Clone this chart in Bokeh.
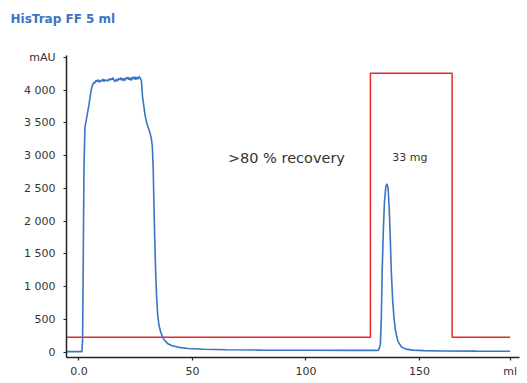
from bokeh.plotting import figure
from bokeh.models import Range1d, FixedTicker, Label, Title
from bokeh.embed import file_html
from bokeh.resources import INLINE

# UV absorbance trace (ml, mAU)
uv_ml = [-5.5, 1.3, 1.6, 1.9, 2.2, 2.6, 3.5, 4.5, 5.3, 5.8,
         6.0, 6.5, 7.0, 7.5, 8.0, 8.5, 9.0, 9.5, 10.0, 10.5, 11.0, 11.5, 12.0, 12.5,
         13.0, 13.5, 14.0, 14.5, 15.0, 15.5, 16.0, 16.5, 17.0, 17.5, 18.0, 18.5, 19.0,
         19.5, 20.0, 20.5, 21.0, 21.5, 22.0, 22.5, 23.0, 23.5, 24.0, 24.5, 25.0, 25.5,
         26.0, 26.5, 27.0, 27.5,
         28.0, 28.6, 29.2, 30.0, 31.0, 31.8, 32.3, 32.7, 33.0, 33.4, 33.8, 34.2, 34.6,
         35.2, 36.0, 37.0, 38.0, 39.0, 41.0, 44.0, 48.0, 55.0, 65.0, 80.0, 100.0, 120.0,
         131.5, 132.0, 132.8, 133.2, 133.6, 134.1, 134.6, 135.2, 135.7, 136.2, 136.7,
         137.2, 137.6, 138.2, 138.8, 139.5, 140.5, 142.0, 144.0, 147.0, 152.0, 160.0,
         175.0, 190.0]
uv_mau = [10, 10, 200, 1500, 2800, 3430, 3600, 3800, 3990, 4060,
          4080, 4120, 4110, 4150, 4130, 4160, 4120, 4150, 4140, 4170, 4130, 4160, 4150, 4140,
          4170, 4150, 4180, 4160, 4190, 4150, 4130, 4170, 4140, 4180, 4160, 4190, 4150,
          4180, 4140, 4190, 4170, 4200, 4160, 4190, 4150, 4200, 4170, 4210, 4160, 4200,
          4170, 4210, 4180, 4150,
          3900, 3750, 3600, 3480, 3380, 3280, 3150, 2800, 2300, 1700, 1200, 850, 600,
          420, 310, 220, 170, 135, 100, 75, 58, 45, 38, 33, 30, 28,
          28, 30, 120, 500, 1250, 1850, 2300, 2530, 2570, 2500, 2200,
          1700, 1250, 800, 520, 320, 170, 85, 48, 32, 25, 20,
          17, 15]

# Step gradient trace (ml, plotted on mAU scale)
grad_ml = [-5.5, 128.4, 128.4, 164.4, 164.4, 190.0]
grad_lvl = [230, 230, 4260, 4260, 230, 230]

x_ticks = [0, 50, 100, 150, 190]
x_tick_labels = {0: "0.0", 50: "50", 100: "100", 150: "150", 190: "ml"}
y_ticks = [0, 500, 1000, 1500, 2000, 2500, 3000, 3500, 4000, 4500]
y_tick_labels = {0: "0", 500: "500", 1000: "1 000", 1500: "1 500", 2000: "2 000",
                 2500: "2 500", 3000: "3 000", 3500: "3 500", 4000: "4 000", 4500: "mAU"}

title_text = "HisTrap FF 5 ml"
note_recovery = ">80 % recovery"
note_mass = "33 mg"

FONT = "DejaVu Sans"
BLUE = "#3a74c4"
RED = "#e8292b"

p = figure(width=527, height=383, output_backend="svg", toolbar_location=None,
           title=None,
           x_range=Range1d(-5.5, 194.1), y_range=Range1d(-80, 4530),
           min_border_left=66, min_border_right=8, min_border_top=55, min_border_bottom=26)
p.outline_line_color = None
p.xgrid.visible = False
p.ygrid.visible = False
p.background_fill_color = "white"
p.border_fill_color = "white"

# spacer panel next to the frame, then the real title above it
p.add_layout(Title(text=" ", text_font=FONT, text_font_size="12px", standoff=9), "above")
p.add_layout(Title(text=title_text, align="left", offset=-56, standoff=10,
                   text_font=FONT, text_font_size="12px", text_font_style="bold",
                   text_color=BLUE), "above")

p.line(grad_ml, grad_lvl, line_color=RED, line_width=1.5)
p.line(uv_ml, uv_mau, line_color=BLUE, line_width=1.6)

for ax in (p.xaxis[0], p.yaxis[0]):
    ax.axis_line_color = "#222222"
    ax.axis_line_width = 1.5
    ax.major_tick_line_color = "#222222"
    ax.major_tick_line_width = 1.2
    ax.major_tick_in = 0
    ax.major_tick_out = 3
    ax.minor_tick_line_color = None
    ax.major_label_text_font = FONT
    ax.major_label_text_font_size = "11px"
    ax.major_label_text_color = "#333333"

p.xaxis.ticker = FixedTicker(ticks=x_ticks)
p.xaxis.major_label_overrides = x_tick_labels
p.xaxis.major_label_standoff = 4
p.yaxis.ticker = FixedTicker(ticks=y_ticks)
p.yaxis.major_label_overrides = y_tick_labels
p.yaxis.major_label_standoff = 8

p.add_layout(Label(x=91.4, y=2970, text=note_recovery, text_font=FONT,
                   text_font_size="14.5px", text_color="#333333",
                   text_align="center", text_baseline="middle"))
p.add_layout(Label(x=145.8, y=2970, text=note_mass, text_font=FONT,
                   text_font_size="11px", text_color="#333333",
                   text_align="center", text_baseline="middle"))

open("out.html", "w").write(file_html(p, INLINE))
